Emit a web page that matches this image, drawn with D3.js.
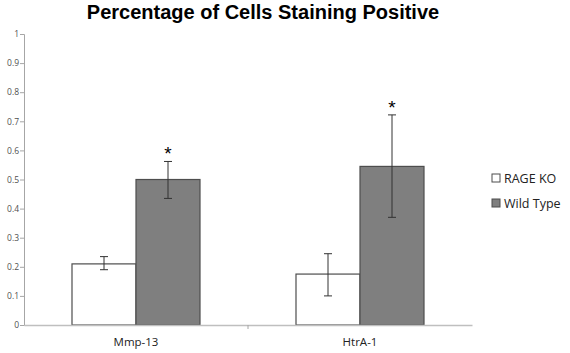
<!DOCTYPE html>
<html>
<head>
<meta charset="utf-8">
<script src="https://d3js.org/d3.v7.min.js"></script>
<style>
  body { margin: 0; background: #fff; }
  text { font-family: "Open Sans", "Liberation Sans", sans-serif; }
</style>
</head>
<body>
<svg width="570" height="353"></svg>
<script>
// chart data
const categories = ["Mmp-13", "HtrA-1"];
const groups = ["RAGE KO", "Wild Type"];
const koValues = [0.21, 0.175];
const koErrLow = [0.19, 0.10];
const koErrHigh = [0.235, 0.245];
const wtValues = [0.50, 0.545];
const wtErrLow = [0.435, 0.37];
const wtErrHigh = [0.562, 0.722];
const significant = [true, true];
const yTicks = [0, 0.1, 0.2, 0.3, 0.4, 0.5, 0.6, 0.7, 0.8, 0.9, 1];

const svg = d3.select("svg");
const margin = { left: 24, right: 98, top: 34, bottom: 28 };
const width = 570, height = 353;

const x = d3.scaleBand()
  .domain(categories)
  .range([margin.left, width - margin.right]);

const xInner = d3.scaleBand()
  .domain(groups)
  .range([0, x.bandwidth()])
  .paddingOuter(0.75);

const y = d3.scaleLinear()
  .domain([0, 1])
  .range([height - margin.bottom, margin.top]);

const colors = { "RAGE KO": "#ffffff", "Wild Type": "#7f7f7f" };

// title
svg.append("text")
  .attr("x", 263)
  .attr("y", 19)
  .attr("text-anchor", "middle")
  .style("font-family", "'Liberation Sans', Arial, sans-serif")
  .style("font-weight", "bold")
  .style("font-size", "20px")
  .text("Percentage of Cells Staining Positive");

// y axis
const yAxis = svg.append("g")
  .attr("transform", `translate(${margin.left},0)`)
  .call(d3.axisLeft(y).tickValues(yTicks).tickSize(4).tickFormat(d3.format("")));
yAxis.select(".domain").attr("stroke", "#a6a6a6");
yAxis.selectAll(".tick line").attr("stroke", "#a6a6a6");
yAxis.selectAll(".tick text")
  .attr("x", -5)
  .style("font-size", "8.5px")
  .attr("fill", "#505050");

// bars
const rows = categories.map((c, i) => [
  { cat: c, group: "RAGE KO", value: koValues[i], lo: koErrLow[i], hi: koErrHigh[i] },
  { cat: c, group: "Wild Type", value: wtValues[i], lo: wtErrLow[i], hi: wtErrHigh[i] }
]).flat();

svg.append("g")
  .selectAll("rect")
  .data(rows)
  .join("rect")
  .attr("x", d => x(d.cat) + xInner(d.group))
  .attr("y", d => y(d.value))
  .attr("width", xInner.bandwidth())
  .attr("height", d => y(0) - y(d.value))
  .attr("fill", d => colors[d.group])
  .attr("stroke", "#4d4d4d")
  .attr("stroke-width", 1.2);

// error bars
const err = svg.append("g")
  .selectAll("g")
  .data(rows)
  .join("g")
  .attr("stroke", "#333")
  .attr("stroke-width", 1);
const cx = d => x(d.cat) + xInner(d.group) + xInner.bandwidth() / 2;
err.append("line")
  .attr("x1", cx).attr("x2", cx)
  .attr("y1", d => y(d.hi)).attr("y2", d => y(d.lo));
err.append("line")
  .attr("x1", d => cx(d) - 4).attr("x2", d => cx(d) + 4)
  .attr("y1", d => y(d.hi)).attr("y2", d => y(d.hi));
err.append("line")
  .attr("x1", d => cx(d) - 4).attr("x2", d => cx(d) + 4)
  .attr("y1", d => y(d.lo)).attr("y2", d => y(d.lo));

// significance asterisks
svg.append("g")
  .selectAll("text")
  .data(rows.filter(d => d.group === "Wild Type" && significant[categories.indexOf(d.cat)]))
  .join("text")
  .attr("x", cx)
  .attr("y", d => y(d.hi) - 1)
  .attr("text-anchor", "middle")
  .style("font-family", "'Liberation Sans', Arial, sans-serif")
  .style("font-size", "19px")
  .text("*");

// x axis
const xAxis = svg.append("g")
  .attr("transform", `translate(0,${y(0)})`)
  .call(d3.axisBottom(x).tickSize(0).tickPadding(13));
xAxis.select(".domain").attr("stroke", "#bfbfbf").attr("stroke-width", 1.5);
xAxis.selectAll(".tick text")
  .style("font-size", "11.5px")
  .attr("fill", "#222");
svg.append("line")
  .attr("x1", x(categories[1])).attr("x2", x(categories[1]))
  .attr("y1", y(0)).attr("y2", y(0) + 4)
  .attr("stroke", "#a6a6a6");

// legend
const legend = svg.append("g")
  .selectAll("g")
  .data(groups)
  .join("g")
  .attr("transform", (d, i) => `translate(492,${174 + i * 25})`);
legend.append("rect")
  .attr("width", 8).attr("height", 8)
  .attr("fill", d => colors[d])
  .attr("stroke", "#4d4d4d");
legend.append("text")
  .attr("x", 12)
  .attr("y", 8.5)
  .style("font-size", "12.5px")
  .attr("fill", "#222")
  .text(d => d);
</script>
</body>
</html>
